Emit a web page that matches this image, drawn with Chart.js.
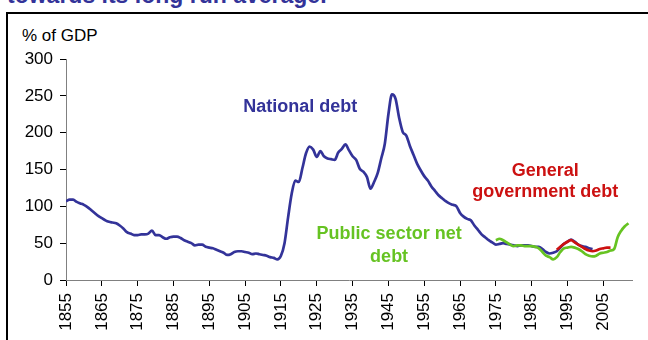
<!DOCTYPE html>
<html>
<head>
<meta charset="utf-8">
<script src="https://cdn.jsdelivr.net/npm/chart.js@4/dist/chart.umd.min.js"></script>
<style>
  body { margin: 0; background: #fff; font-family: "Liberation Sans", Arial, sans-serif; }
  #wrap { position: relative; width: 648px; height: 340px; overflow: hidden; }
  #chart { position: absolute; left: 0; top: 0; }
  .title { position: absolute; left: 7px; top: -18px; font: bold 23px "Liberation Sans", Arial, sans-serif; color: #333399; white-space: nowrap; }
  .frame { position: absolute; left: 6px; top: 12px; width: 700px; height: 400px; border: 2px solid #000; pointer-events: none; }
  .unit { position: absolute; left: 22px; top: 26px; font: 17px "Liberation Sans", Arial, sans-serif; color: #000; }
</style>
</head>
<body>
<div id="wrap">
  <div class="title">towards its long run average.</div>
  <div class="frame"></div>
  <div class="unit">% of GDP</div>
  <canvas id="chart" width="648" height="340"></canvas>
</div>
<script>
// Values, % of GDP
const nationalStart = 1855;
const nationalDebt = [
  107, 109, 109, 106, 104, 102, 99, 95, 91, 87,      // 1855-1864
  84, 81, 79, 78, 77, 74, 70, 65, 63, 61,             // 1865-1874
  61, 62, 62, 63, 67, 61, 61, 58, 56, 58,             // 1875-1884
  59, 59, 57, 54, 52, 50, 47, 48, 48, 45,             // 1885-1894
  44, 43, 41, 39, 37, 34, 35, 38, 39, 39,             // 1895-1904
  38, 37, 35, 36, 35, 34, 33, 31, 30, 28,             // 1905-1914
  33, 50, 85, 117, 135, 133, 152, 172, 181, 177,      // 1915-1924
  167, 175, 168, 165, 164, 163, 173, 178, 184, 176,   // 1925-1934
  168, 163, 151, 147, 140, 124, 133, 145, 165, 185,   // 1935-1944
  225, 252, 246, 220, 201, 196, 182, 170, 158, 149,   // 1945-1954
  141, 135, 127, 121, 115, 111, 107, 104, 102, 100,   // 1955-1964
  91, 86, 83, 81, 74, 68, 62, 58, 54, 51,             // 1965-1974
  48, 49, 50, 49, 48, 47, 46, 47, 47, 47,             // 1975-1984
  46, 45, 45, 42, 38, 36, 37, 39, 44, 49,             // 1985-1994
  52, 55, 52, 48, 46, 45, 43, 42                      // 1995-2002
];

const generalStart = 1992;
const generalDebt = [41, 45, 49, 52, 54, 51, 48, 45, 42, 40, 39, 40, 42, 43, 44, 44];

const publicStart = 1975;
const publicNetDebt = [
  54, 56, 54, 51, 48, 46, 47, 47, 46, 46,   // 1975-1984
  46, 45, 43, 38, 33, 31, 28, 31, 38, 43,   // 1985-1994
  44, 45, 44, 42, 39, 35, 33, 32, 33, 36,   // 1995-2004
  37, 38, 40, 42, 58, 67, 73, 77            // 2005-2012
];

const tickYears = [1855, 1865, 1875, 1885, 1895, 1905, 1915, 1925, 1935, 1945, 1955, 1965, 1975, 1985, 1995, 2005];
const yTicks = [0, 50, 100, 150, 200, 250, 300];

const BLUE = '#333399';
const RED = '#cc1111';
const GREEN = '#66c322';

function toPoints(start, values) {
  return values.map((v, i) => ({ x: start + i, y: v }));
}

// labels anchored in data space: [text, year, value, colour]
const labels = [
  ['National debt', 1920.4, 228, BLUE],
  ['General', 1988.8, 141, RED],
  ['government debt', 1988.8, 113, RED],
  ['Public sector net', 1945.2, 56, GREEN],
  ['debt', 1945.2, 24, GREEN]
];

const labelPlugin = {
  id: 'seriesLabels',
  afterDatasetsDraw(chart) {
    const { ctx, scales } = chart;
    ctx.save();
    ctx.font = 'bold 18px "Liberation Sans", Arial, sans-serif';
    ctx.textAlign = 'center';
    ctx.textBaseline = 'alphabetic';
    labels.forEach(([text, x, y, col]) => {
      ctx.fillStyle = col;
      ctx.fillText(text, scales.x.getPixelForValue(x), scales.y.getPixelForValue(y));
    });
    ctx.restore();
  }
};

const lineStyle = { borderWidth: 2.7, pointRadius: 0, fill: false, cubicInterpolationMode: 'monotone' };

new Chart(document.getElementById('chart'), {
  type: 'line',
  data: {
    datasets: [
      Object.assign({ label: 'General government debt', data: toPoints(generalStart, generalDebt), borderColor: RED }, lineStyle),
      Object.assign({ label: 'Public sector net debt', data: toPoints(publicStart, publicNetDebt), borderColor: GREEN }, lineStyle),
      Object.assign({ label: 'National debt', data: toPoints(nationalStart, nationalDebt), borderColor: BLUE }, lineStyle)
    ]
  },
  options: {
    responsive: false,
    animation: false,
    layout: { padding: { top: 59, right: 16, left: 0, bottom: 0 } },
    plugins: { legend: { display: false }, tooltip: { enabled: false } },
    scales: {
      x: {
        type: 'linear',
        min: 1855,
        max: 2013,
        afterBuildTicks: s => { s.ticks = tickYears.map(v => ({ value: v })); },
        afterFit: s => { s.height = 60; },
        border: { display: true, color: '#808080', width: 1 },
        grid: { drawOnChartArea: false, drawTicks: true, tickLength: 6, color: '#000' },
        ticks: {
          color: '#000',
          font: { family: '"Liberation Sans", Arial, sans-serif', size: 17 },
          minRotation: 90, maxRotation: 90, padding: 7,
          callback: v => String(v)
        }
      },
      y: {
        min: 0,
        max: 300,
        afterBuildTicks: s => { s.ticks = yTicks.map(v => ({ value: v })); },
        afterFit: s => { s.width = 66; },
        border: { display: true, color: '#808080', width: 1 },
        grid: { drawOnChartArea: false, drawTicks: true, tickLength: 6, color: '#000' },
        ticks: {
          color: '#000',
          font: { family: '"Liberation Sans", Arial, sans-serif', size: 17 },
          padding: 7
        }
      }
    }
  },
  plugins: [labelPlugin]
});
</script>
</body>
</html>
